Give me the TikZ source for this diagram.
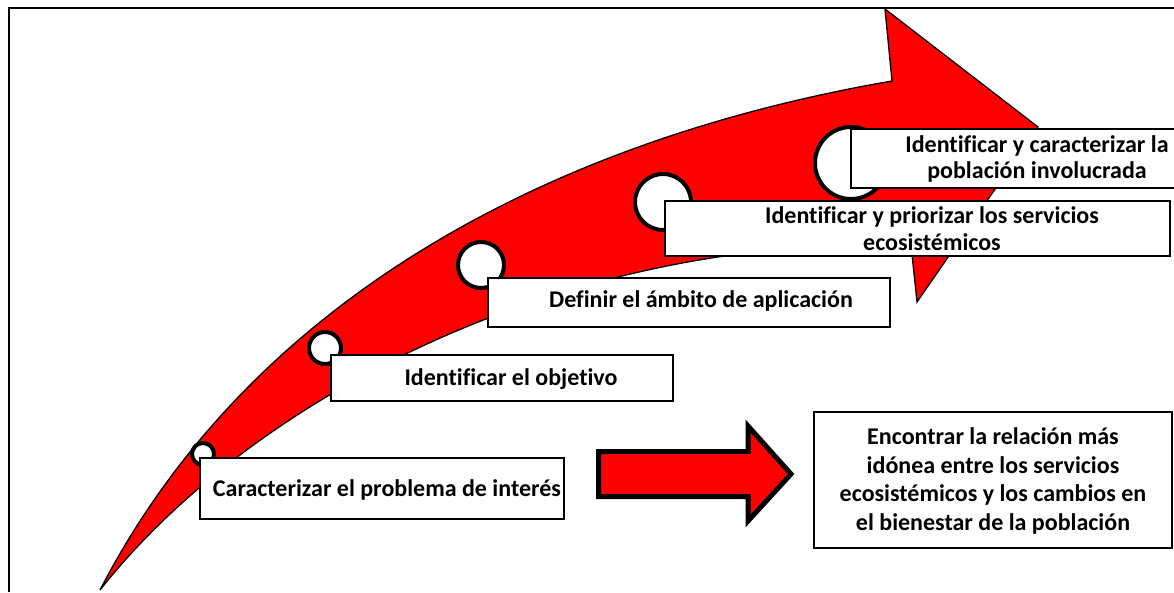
\documentclass[tikz,border=0pt]{standalone}
\usepackage{fontspec}
\setmainfont{Carlito}[Ligatures=NoCommon]
\begin{document}
\begin{tikzpicture}[x=1pt,y=-1pt,
  box/.style={draw=black, line width=1.5pt, fill=white, inner sep=0pt},
  lbl/.style={font=\fontsize{24}{27}\selectfont\bfseries, align=center, inner sep=0pt},
  ring/.style={draw=black, line width=4pt, fill=white, circle, inner sep=0pt}]
\useasboundingbox (0,0) rectangle (1174,592);
% frame
\draw[line width=2pt] (9,592) -- (9,8) -- (1174,8);
% curved arrow
\filldraw[fill=red, draw=black, line width=1.3pt, line join=miter]
  (100,590) .. controls (250,300) and (550,140) .. (892,81)
  -- (885,9) -- (1038,127) -- (917,302) -- (911,245)
  .. controls (560,235) and (250,400) .. (100,590)
  -- cycle;
% rings
\node[ring, minimum size=22pt] (c1) at (203,454) {};
\node[ring, minimum size=32pt] (c2) at (325,348) {};
\node[ring, minimum size=46pt] (c3) at (481,265) {};
\node[ring, minimum size=56pt] (c4) at (663,202) {};
\node[ring, minimum size=72pt] (c5) at (851,163) {};
% boxes
\node[box, minimum width=364pt, minimum height=61pt] (b1) at (382,488.5) {};
\node[lbl] (t1) at (387,490) {Caracterizar el problema de interés};
\node[box, minimum width=342pt, minimum height=46pt] (b2) at (502,378) {};
\node[lbl] (t2) at (511,379) {Identificar el objetivo};
\node[box, minimum width=402pt, minimum height=49pt] (b3) at (689,302.5) {};
\node[lbl] (t3) at (701,301) {Definir el ámbito de aplicación};
\node[box, minimum width=505pt, minimum height=55pt] (b4) at (917.5,228.5) {};
\node[lbl] (t4) at (932,229) {Identificar y priorizar los servicios\\ecosistémicos};
\begin{scope}
\clip (0,0) rectangle (1174,592);
\node[box, minimum width=372pt, minimum height=59pt] (b5) at (1037,158.5) {};
\end{scope}
\node[lbl, font=\fontsize{24}{26}\selectfont\bfseries] (t5) at (1037,159) {Identificar y caracterizar la\\población involucrada};
% block arrow
\filldraw[fill=red, draw=black, line width=5pt, line join=miter]
  (598.5,451.5) -- (748,451.5) -- (748,426) -- (791,474) -- (748,521) -- (748,496.5) -- (598.5,496.5) -- cycle;
% result box
\node[box, line width=1.8pt, minimum width=358pt, minimum height=136pt] (b6) at (993,480) {};
\node[lbl, font=\fontsize{24}{28.7}\selectfont\bfseries] (t6) at (993,481) {Encontrar la relación más\\idónea entre los servicios\\ecosistémicos y los cambios en\\el bienestar de la población};
\end{tikzpicture}
\end{document}
